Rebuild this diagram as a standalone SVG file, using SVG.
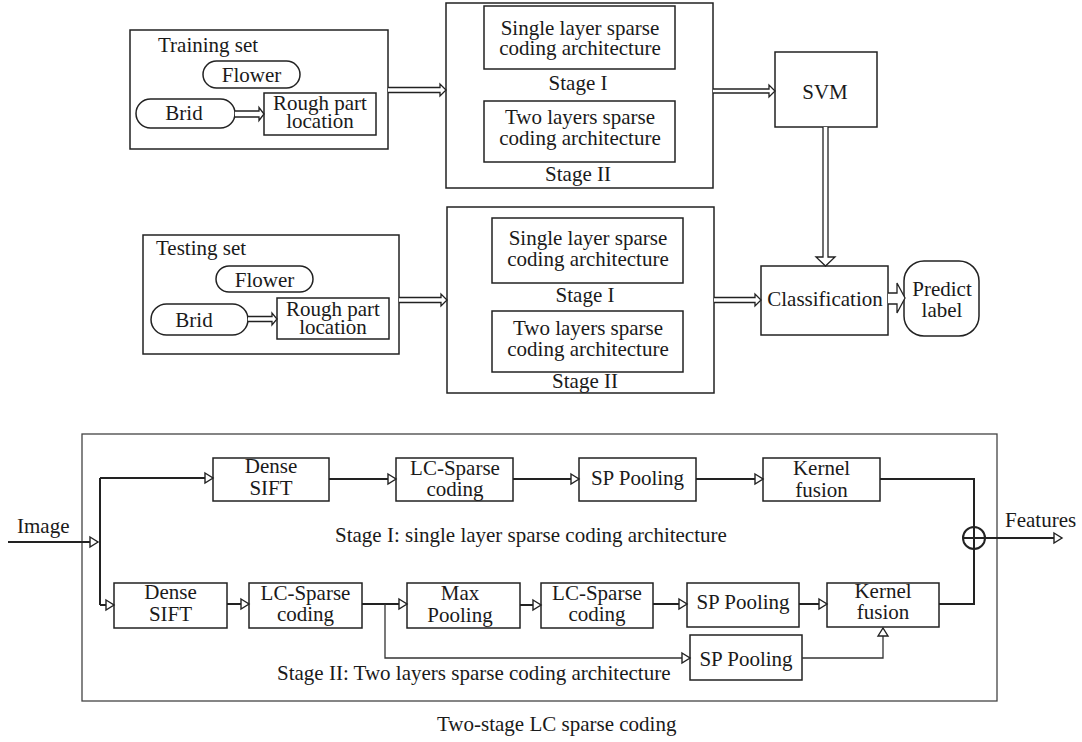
<svg xmlns="http://www.w3.org/2000/svg" width="1082" height="742" viewBox="0 0 1082 742" font-family="'Liberation Serif', 'Times New Roman', serif">
<style>
text{font-family:"Liberation Serif","Times New Roman",serif;font-size:21px;fill:#1a1a1a}
.c{text-anchor:middle}
.box{fill:none;stroke:#222;stroke-width:1.5}
.outer{fill:none;stroke:#444;stroke-width:1.3}
.darrow{fill:#fff;stroke:#222;stroke-width:1.3;stroke-linejoin:miter}
.line{fill:none;stroke:#222;stroke-width:2}
.thin{fill:none;stroke:#333;stroke-width:1.3}
</style>
<defs>
<marker id="tri" markerUnits="userSpaceOnUse" markerWidth="10" markerHeight="12" refX="8" refY="5" orient="auto" overflow="visible">
<path d="M0,0 L8,5 L0,10 Z" fill="#fff" stroke="#222" stroke-width="1.4"/>
</marker>
</defs>
<rect width="1082" height="742" fill="#fff"/>

<!-- Top section -->
<g id="training">
<rect class="box" x="130" y="30" width="258" height="119"/>
<text x="158" y="52">Training set</text>
<g id="flower1"><rect class="box" x="203" y="61" width="97" height="27" rx="13.5"/><text class="c" x="251.5" y="82">Flower</text></g>
<g id="brid1"><rect class="box" x="136" y="99" width="99" height="29" rx="14.5"/><text class="c" x="184" y="120">Brid</text></g>
<g id="rough1"><rect class="box" x="264" y="93" width="112" height="42"/><text class="c" x="320" y="110">Rough part</text><text class="c" x="320" y="128">location</text></g>
</g>

<g id="stages1">
<rect class="box" x="446" y="3" width="267" height="185"/>
<rect class="box" x="484" y="6" width="191" height="63"/>
<text class="c" x="580" y="35">Single layer sparse</text>
<text class="c" x="580" y="55">coding architecture</text>
<text class="c" x="578" y="90">Stage I</text>
<rect class="box" x="484" y="101" width="191" height="61"/>
<text class="c" x="580" y="124">Two layers sparse</text>
<text class="c" x="580" y="145">coding architecture</text>
<text class="c" x="578" y="181">Stage II</text>
</g>

<g id="svm">
<rect class="box" x="775" y="52" width="102" height="75"/>
<text class="c" x="825" y="99">SVM</text>
</g>

<g id="testing">
<rect class="box" x="143" y="235" width="256" height="119"/>
<text x="156" y="255">Testing set</text>
<g id="flower2"><rect class="box" x="216" y="266" width="97" height="26" rx="13"/><text class="c" x="264.5" y="287">Flower</text></g>
<g id="brid2"><rect class="box" x="151" y="304" width="97" height="31" rx="15.5"/><text class="c" x="194" y="327">Brid</text></g>
<g id="rough2"><rect class="box" x="277" y="298" width="112" height="41"/><text class="c" x="333" y="316">Rough part</text><text class="c" x="333" y="334">location</text></g>
</g>

<g id="stages2">
<rect class="box" x="447" y="207" width="267" height="186"/>
<rect class="box" x="492" y="218" width="191" height="65"/>
<text class="c" x="588" y="245">Single layer sparse</text>
<text class="c" x="588" y="266">coding architecture</text>
<text class="c" x="585" y="302">Stage I</text>
<rect class="box" x="492" y="311" width="191" height="61"/>
<text class="c" x="588" y="335">Two layers sparse</text>
<text class="c" x="588" y="356">coding architecture</text>
<text class="c" x="585" y="388">Stage II</text>
</g>

<g id="classification">
<rect class="box" x="761" y="266" width="127" height="69"/>
<text class="c" x="825" y="306">Classification</text>
</g>

<g id="predict">
<rect class="box" x="904" y="261" width="75" height="75" rx="20"/>
<text class="c" x="942" y="296">Predict</text>
<text class="c" x="942" y="317">label</text>
</g>

<!-- Bottom section -->
<g id="lc-frame">
<rect class="outer" x="82" y="434" width="915" height="267"/>
</g>

<g id="dense1"><rect class="box" x="213" y="458" width="116" height="43"/><text class="c" x="271" y="473">Dense</text><text class="c" x="271" y="495">SIFT</text></g>
<g id="lcs1"><rect class="box" x="396" y="458" width="117" height="43"/><text class="c" x="455" y="475">LC-Sparse</text><text class="c" x="455" y="496">coding</text></g>
<g id="spp1"><rect class="box" x="579" y="458" width="117" height="43"/><text class="c" x="637.5" y="485">SP Pooling</text></g>
<g id="kf1"><rect class="box" x="763" y="458" width="117" height="43"/><text class="c" x="821.5" y="475">Kernel</text><text class="c" x="821.5" y="497">fusion</text></g>

<g id="dense2"><rect class="box" x="114" y="583" width="113" height="45"/><text class="c" x="170.5" y="599">Dense</text><text class="c" x="170.5" y="621">SIFT</text></g>
<g id="lcs2"><rect class="box" x="249" y="583" width="113" height="45"/><text class="c" x="305.5" y="600">LC-Sparse</text><text class="c" x="305.5" y="621">coding</text></g>
<g id="maxp"><rect class="box" x="407" y="583" width="113" height="45"/><text class="c" x="460" y="600">Max</text><text class="c" x="460" y="622">Pooling</text></g>
<g id="lcs3"><rect class="box" x="541" y="583" width="112" height="45"/><text class="c" x="597" y="600">LC-Sparse</text><text class="c" x="597" y="621">coding</text></g>
<g id="spp2"><rect class="box" x="687" y="583" width="112" height="44"/><text class="c" x="743" y="609">SP Pooling</text></g>
<g id="kf2"><rect class="box" x="827" y="583" width="112" height="44"/><text class="c" x="883" y="598">Kernel</text><text class="c" x="883" y="619">fusion</text></g>
<g id="spp3"><rect class="box" x="690" y="635" width="112" height="45"/><text class="c" x="746" y="666">SP Pooling</text></g>

<g id="sum">
<circle cx="974" cy="538" r="11" fill="none" stroke="#222" stroke-width="2"/>
<line x1="963" y1="538" x2="985" y2="538" stroke="#222" stroke-width="2"/>
</g>

<g id="labels">
<text x="17" y="533">Image</text>
<text x="1005" y="527">Features</text>
<text x="335" y="542">Stage I: single layer sparse coding architecture</text>
<text x="277" y="680">Stage II: Two layers sparse coding architecture</text>
<text x="437" y="731">Two-stage LC sparse coding</text>
</g>

<g id="connectors">
<path class="darrow" d="M388,87.5 H440 V84 L446,90 L440,96 V92.5 H388"/>
<path class="darrow" d="M235,111 H259 V107.5 L264,114 L259,120.5 V117 H235"/>
<path class="darrow" d="M713,89 H769 V85 L775,91 L769,97 V93 H713"/>
<path class="darrow" d="M399,297.5 H441 V294 L447,300 L441,306 V302.5 H399"/>
<path class="darrow" d="M248,316.5 H272 V313 L277,319 L272,325 V321.5 H248"/>
<path class="darrow" d="M714,297.5 H755 V294 L761,300 L755,306 V302.5 H714"/>
<path class="darrow" d="M823,127 V257 H816 L825.5,266 L835,257 H828 V127"/>
<path class="darrow" d="M888,293 H897 V283 L905,298 L897,313 V304 H888"/>

<path class="line" d="M8,542 H98" marker-end="url(#tri)"/>
<path class="line" d="M100,478 V605"/>
<path class="line" d="M100,478 H213" marker-end="url(#tri)"/>
<path class="line" d="M100,605 H114" marker-end="url(#tri)"/>
<path class="line" d="M329,479 H396" marker-end="url(#tri)"/>
<path class="line" d="M513,479 H579" marker-end="url(#tri)"/>
<path class="line" d="M696,479 H763" marker-end="url(#tri)"/>
<path class="line" d="M880,479 H974 V604 H939"/>
<path class="line" d="M985,538 H1062" marker-end="url(#tri)"/>
<path class="line" d="M227,604 H249" marker-end="url(#tri)"/>
<path class="line" d="M362,604 H407" marker-end="url(#tri)"/>
<path class="line" d="M520,605 H541" marker-end="url(#tri)"/>
<path class="line" d="M653,604 H687" marker-end="url(#tri)"/>
<path class="line" d="M799,604 H827" marker-end="url(#tri)"/>
<path class="thin" d="M385,604 V658 H690" marker-end="url(#tri)"/>
<path class="thin" d="M802,658 H883 V628" marker-end="url(#tri)"/>
</g>
</svg>
